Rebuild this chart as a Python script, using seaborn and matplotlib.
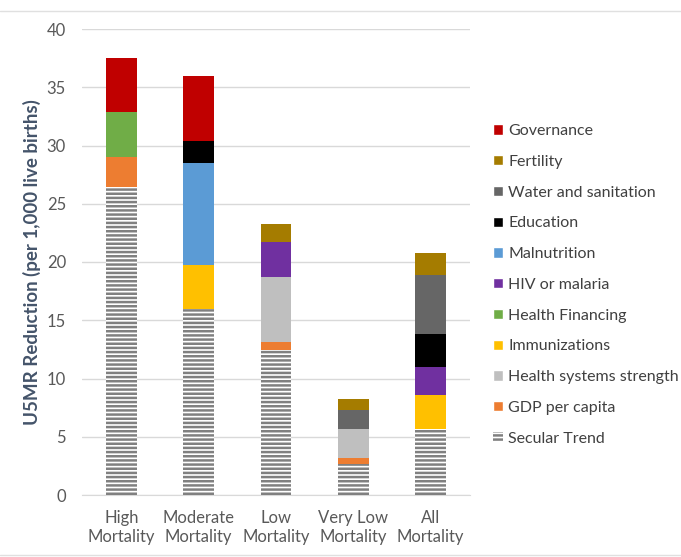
import numpy as np
import pandas as pd
import seaborn as sns
import matplotlib.pyplot as plt
from matplotlib.patches import Patch
from matplotlib.lines import Line2D

groups = ["High\nMortality", "Moderate\nMortality", "Low\nMortality",
          "Very Low\nMortality", "All\nMortality"]

# segment sizes, bottom to top
secular = [26.4, 16.0, 12.45, 2.7, 5.7]
gdp = [2.6, 0.0, 0.65, 0.5, 0.0]
health_sys = [0.0, 0.0, 5.6, 2.5, 0.0]
immun = [0.0, 3.7, 0.0, 0.0, 2.9]
health_fin = [3.9, 0.0, 0.0, 0.0, 0.0]
hiv = [0.0, 0.0, 3.0, 0.0, 2.4]
malnut = [0.0, 8.8, 0.0, 0.0, 0.0]
education = [0.0, 1.9, 0.0, 0.0, 2.85]
water = [0.0, 0.0, 0.0, 1.6, 5.05]
fertility = [0.0, 0.0, 1.6, 0.9, 1.9]
governance = [4.6, 5.6, 0.0, 0.0, 0.0]

layers = [
    ("Secular Trend", secular, "white"),
    ("GDP per capita", gdp, "#ED7D31"),
    ("Health systems strength", health_sys, "#BFBFBF"),
    ("Immunizations", immun, "#FFC000"),
    ("Health Financing", health_fin, "#70AD47"),
    ("HIV or malaria", hiv, "#7030A0"),
    ("Malnutrition", malnut, "#5B9BD5"),
    ("Education", education, "#000000"),
    ("Water and sanitation", water, "#666666"),
    ("Fertility", fertility, "#A57C00"),
    ("Governance", governance, "#C00000"),
]

sns.set_style("white")
plt.rcParams['font.family'] = ['Lato', 'DejaVu Sans']
plt.rcParams['hatch.linewidth'] = 1.8

fig = plt.figure(figsize=(6.81, 5.57), dpi=100)
ax = fig.add_axes([82 / 681, 1 - 495 / 557, 388 / 681, 466 / 557])

bottom = np.zeros(len(groups))
handles = []
for name, vals, col in layers:
    vals = np.array(vals)
    if name == "Secular Trend":
        sns.barplot(x=groups, y=vals, bottom=bottom, color=col, width=0.40,
                    hatch="----", edgecolor="#808080", linewidth=0,
                    saturation=1, ax=ax, zorder=3)
        handles.append(Patch(facecolor="white", edgecolor="#808080",
                             hatch="----", linewidth=0, label=name))
    else:
        sns.barplot(x=groups, y=vals, bottom=bottom, color=col, width=0.40,
                    linewidth=0, saturation=1, ax=ax, zorder=3)
        handles.append(Patch(facecolor=col, label=name))
    bottom = bottom + vals

ax.set_xlim(-0.51, 4.51)
ax.set_ylim(0, 40)
ax.set_yticks(range(0, 41, 5))
ax.grid(axis="y", color="#D9D9D9", linewidth=1, zorder=0)
for s in ["top", "right", "left"]:
    ax.spines[s].set_visible(False)
ax.spines["bottom"].set_color("#D9D9D9")
ax.tick_params(axis="both", length=0, labelsize=12, colors="#595959")
ax.tick_params(axis="y", pad=11.5)
ax.tick_params(axis="x", pad=11)
ax.set_xlabel("")
ax.set_ylabel("U5MR Reduction (per 1,000 live births)", fontsize=13.5,
              fontweight="bold", color="#44546A")
ax.yaxis.set_label_coords(-0.106, 0.5)

fig.legend(handles=handles[::-1], loc="upper left",
           bbox_to_anchor=(493 / 681, 1 - 124 / 557), frameon=False,
           fontsize=11.5, handlelength=0.62, handleheight=0.62,
           handletextpad=0.33, labelspacing=1.05, borderpad=0,
           borderaxespad=0, labelcolor="#404040")

# faint frame lines at top and bottom of the picture
fig.add_artist(Line2D([0, 1], [1 - 11 / 557, 1 - 11 / 557],
                      color="#E0E0E0", linewidth=1))
fig.add_artist(Line2D([0, 1], [2 / 557, 2 / 557],
                      color="#E0E0E0", linewidth=1))

fig.savefig("out.png", dpi=100)
